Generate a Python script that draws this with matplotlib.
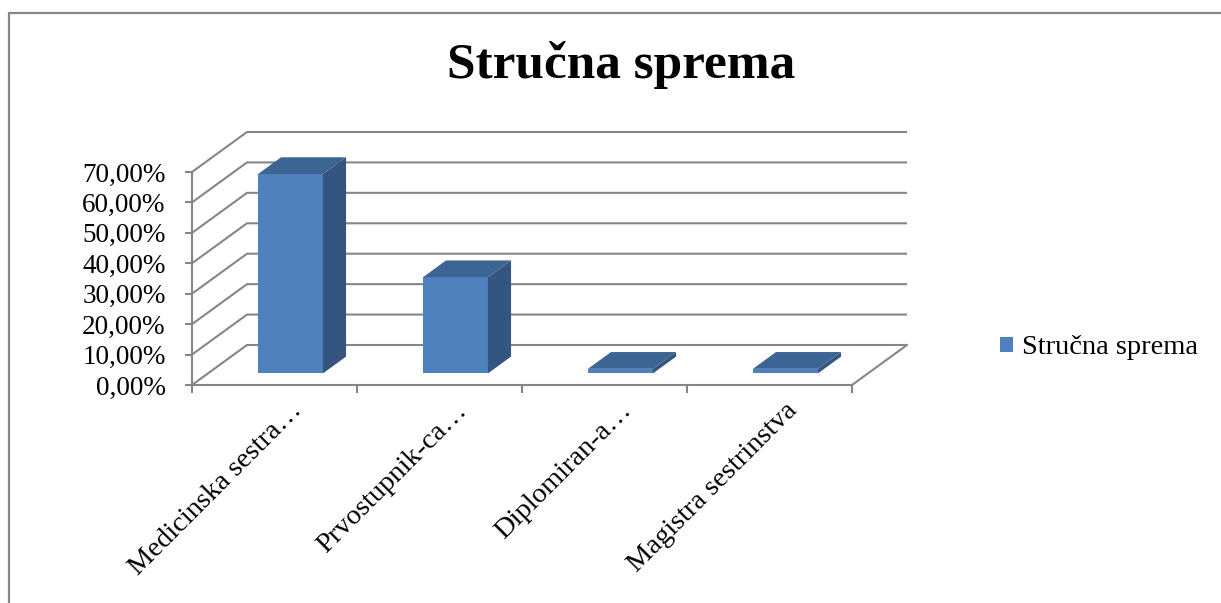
import matplotlib.pyplot as plt
from matplotlib.patches import Polygon, Rectangle

OUTPUT_PNG = "out.png"

# Data
categories = ["Medicinska sestra\u2026", "Prvostupnik-ca\u2026", "Diplomiran-a\u2026", "Magistra sestrinstva"]
values = [65.5, 31.6, 1.5, 1.5]
yticks = [0, 10, 20, 30, 40, 50, 60, 70]
series_name = "Stručna sprema"
title = "Stručna sprema"

FONT = "Liberation Serif"
GRID = "#868686"
FRONT = "#4F81BD"
TOP = "#3C6594"
SIDE = "#34557F"

W_PX, H_PX = 1221, 603
# pixel layout of the plot area (front origin, scales)
X0_PX, Y0_PX = 192, 385
PX_PER_CAT = 165
PX_PER_PCT = 3.043
DX = 55 / PX_PER_CAT       # depth offset in x (category units)
DY = 40 / PX_PER_PCT       # depth offset in y (percent)

fig = plt.figure(figsize=(W_PX / 100, H_PX / 100), dpi=100)

left_px, right_px, top_px = X0_PX, 925, 118
ax = fig.add_axes([left_px / W_PX, 1 - Y0_PX / H_PX,
                   (right_px - left_px) / W_PX, (Y0_PX - top_px) / H_PX])
ax.set_xlim(0, (right_px - left_px) / PX_PER_CAT)
ax.set_ylim(0, (Y0_PX - top_px) / PX_PER_PCT)
ax.patch.set_visible(False)
for s in ["top", "right"]:
    ax.spines[s].set_visible(False)
ax.spines["left"].set_bounds(0, yticks[-1])
ax.spines["bottom"].set_bounds(0, len(categories))
for s in ["left", "bottom"]:
    ax.spines[s].set_color(GRID)
    ax.spines[s].set_linewidth(1.5)

# Walls and grid
n = len(categories)
for v in yticks:
    ax.plot([0, DX, n + DX], [v, v + DY, v + DY], color=GRID, lw=1.5, zorder=1,
            solid_capstyle="butt", clip_on=False)
ax.plot([n, n + DX], [0, DY], color=GRID, lw=1.5, zorder=1, clip_on=False)

# Ticks
ax.set_yticks(yticks)
ax.set_yticklabels([f"{v:.2f}%".replace(".", ",") for v in yticks],
                   fontsize=19.5, family=FONT)
ax.tick_params(axis="y", direction="out", length=5, width=1.5, color=GRID, pad=14)
ax.set_xticks(range(n + 1))
ax.set_xticklabels([])
ax.tick_params(axis="x", direction="out", length=6, width=1.5, color=GRID)

# Bars: front face via ax.bar, top and side faces as polygons
w = 0.394
f0, f1 = 0.29, 0.71
bx = [i + 0.5 + f0 * DX for i in range(n)]
base = f0 * DY
ddx, ddy = (f1 - f0) * DX, (f1 - f0) * DY
bars = ax.bar(bx, values, width=w, bottom=base, color=FRONT, zorder=3, label=series_name)
for xc, v in zip(bx, values):
    xl, xr = xc - w / 2, xc + w / 2
    ytop = base + v
    ax.add_patch(Polygon([(xl, ytop), (xr, ytop), (xr + ddx, ytop + ddy), (xl + ddx, ytop + ddy)],
                         closed=True, facecolor=TOP, edgecolor="none", zorder=3))
    ax.add_patch(Polygon([(xr, base), (xr + ddx, base + ddy), (xr + ddx, ytop + ddy), (xr, ytop)],
                         closed=True, facecolor=SIDE, edgecolor="none", zorder=3))

# Category labels
for i, lab in enumerate(categories):
    ax.text(i + 0.59, -4.3, lab, rotation=45, rotation_mode="anchor", ha="right", va="top",
            fontsize=20.5, family=FONT, clip_on=False)

# Legend
ax.legend(handles=[bars], loc="center left", bbox_to_anchor=(986 / W_PX, 1 - 348 / H_PX),
          bbox_transform=fig.transFigure, frameon=False, borderpad=0, handlelength=0.45,
          handleheight=0.45, handletextpad=0.3, prop={"family": FONT, "size": 20.5})

# Title
fig.text(621 / W_PX, 1 - 78 / H_PX, title, ha="center", va="baseline",
         fontsize=37, fontweight="bold", family=FONT)

# Chart border (left and top visible)
fig.add_artist(Rectangle((9 / W_PX, -0.1), 1.2, 1.1 - 13 / H_PX, transform=fig.transFigure,
                         fill=False, edgecolor="#878787", lw=1.6))

plt.savefig(OUTPUT_PNG, dpi=100)
plt.close()
